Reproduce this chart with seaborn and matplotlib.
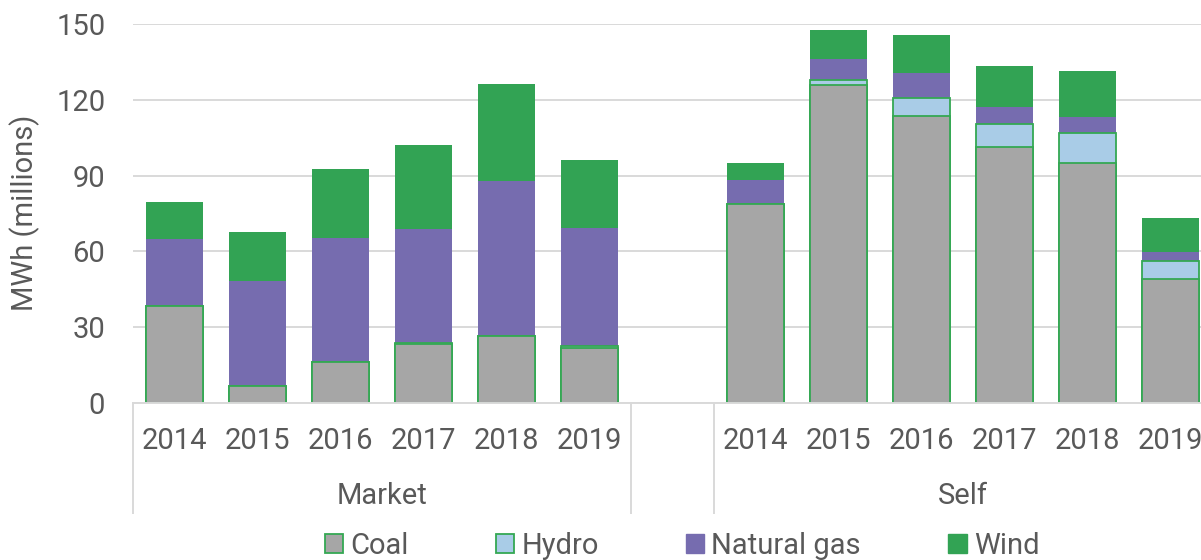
import matplotlib
matplotlib.use('Agg')
import matplotlib.pyplot as plt
import matplotlib.transforms as mtransforms
from matplotlib.patches import Patch
import numpy as np
import pandas as pd
import seaborn as sns

# Data (MWh, millions)
groups = ['Market', 'Self']
years = ['2014', '2015', '2016', '2017', '2018', '2019']
coal = {'Market': [38.5, 6.7, 16.4, 23.3, 26.6, 21.7],
        'Self': [78.8, 125.8, 113.5, 101.3, 95.0, 48.9]}
hydro = {'Market': [0.0, 0.0, 0.0, 0.5, 0.0, 0.8],
         'Self': [0.0, 2.0, 7.4, 9.3, 11.7, 7.4]}
natural_gas = {'Market': [26.5, 41.4, 49.1, 45.1, 61.4, 46.8],
               'Self': [9.3, 8.4, 9.7, 6.7, 6.5, 3.6]}
wind = {'Market': [14.5, 19.5, 27.1, 33.3, 38.1, 27.0],
        'Self': [6.9, 11.4, 14.9, 16.0, 18.3, 13.4]}

TEXT = '#595959'
GRID = '#D9D9D9'
C_COAL = '#A6A6A6'
C_HYDRO = '#A9CCE7'
C_GAS = '#766CAF'
C_WIND = '#32A354'
EDGE = '#34A853'

# Build long table; a blank slot sits between the groups
rows = []
for g in groups:
    for i, y in enumerate(years):
        rows.append({'slot': f'{g} {y}', 'coal': coal[g][i], 'hydro': hydro[g][i],
                     'gas': natural_gas[g][i], 'wind': wind[g][i]})
df = pd.DataFrame(rows)
df['c1'] = df['coal']
df['c2'] = df['c1'] + df['hydro']
df['c3'] = df['c2'] + df['gas']
df['c4'] = df['c3'] + df['wind']
order = [f'Market {y}' for y in years] + ['gap'] + [f'Self {y}' for y in years]

plt.rcParams['font.family'] = ['Roboto', 'DejaVu Sans']
fig = plt.figure(figsize=(12.01, 5.6), dpi=100)
ax = fig.add_axes([133 / 1201, 157 / 560, 1079 / 1201, 379 / 560])

bw = 0.675
layers = [('c4', C_WIND, C_WIND, 0),
          ('c3', C_GAS, C_GAS, 0),
          ('c2', C_HYDRO, EDGE, 1.3),
          ('c1', C_COAL, EDGE, 1.3)]
for col, fc, ec, lw in layers:
    sns.barplot(data=df, x='slot', y=col, order=order, color=fc, saturation=1,
                width=bw, edgecolor=ec, linewidth=lw, errorbar=None, ax=ax, zorder=3)

ax.set_xlim(-0.5, len(order) - 0.5)
ax.set_ylim(0, 150)
ax.set_yticks(np.arange(0, 151, 30))
ax.yaxis.grid(True, color=GRID, linewidth=1.4, zorder=0)
ax.set_axisbelow(True)
for s in ['top', 'right', 'left']:
    ax.spines[s].set_visible(False)
ax.spines['bottom'].set_color(GRID)
ax.spines['bottom'].set_linewidth(1.4)
ax.spines['bottom'].set_zorder(4)

tick_labels = years + [''] + years
ax.set_xticks(range(len(order)))
ax.set_xticklabels(tick_labels)
ax.tick_params(axis='x', length=0, pad=17, labelsize=21, colors=TEXT)
ax.tick_params(axis='y', length=0, pad=20, labelsize=21, colors=TEXT)
ax.set_xlabel('')
ax.set_ylabel('')

# Group labels and separators of the two-level category axis
trans = mtransforms.blended_transform_factory(ax.transData, ax.transAxes)
for xpos in [-0.5, 5.5, 6.5, 12.5]:
    ax.plot([xpos, xpos], [0, -0.29], color=GRID, linewidth=1.4,
            transform=trans, clip_on=False)
ax.text(2.5, -0.246, 'Market', transform=trans, ha='center', va='center',
        fontsize=21, color=TEXT)
ax.text(9.5, -0.246, 'Self', transform=trans, ha='center', va='center',
        fontsize=21, color=TEXT)

fig.text(25 / 1201, 1 - 213 / 560, 'MWh (millions)', rotation=90, ha='center',
         va='center', fontsize=21, color=TEXT)

handles = [Patch(facecolor=C_COAL, edgecolor=EDGE, linewidth=1.3, label='Coal'),
           Patch(facecolor=C_HYDRO, edgecolor=EDGE, linewidth=1.3, label='Hydro'),
           Patch(facecolor=C_GAS, edgecolor=C_GAS, label='Natural gas'),
           Patch(facecolor=C_WIND, edgecolor=C_WIND, label='Wind')]
fig.legend(handles=handles, loc='center', bbox_to_anchor=(682 / 1201, 1 - 546 / 560),
           ncol=4, frameon=False, fontsize=21, labelcolor=TEXT,
           handlelength=0.62, handleheight=0.62, handletextpad=0.25,
           columnspacing=3.0)

fig.savefig('out.png', dpi=100)
